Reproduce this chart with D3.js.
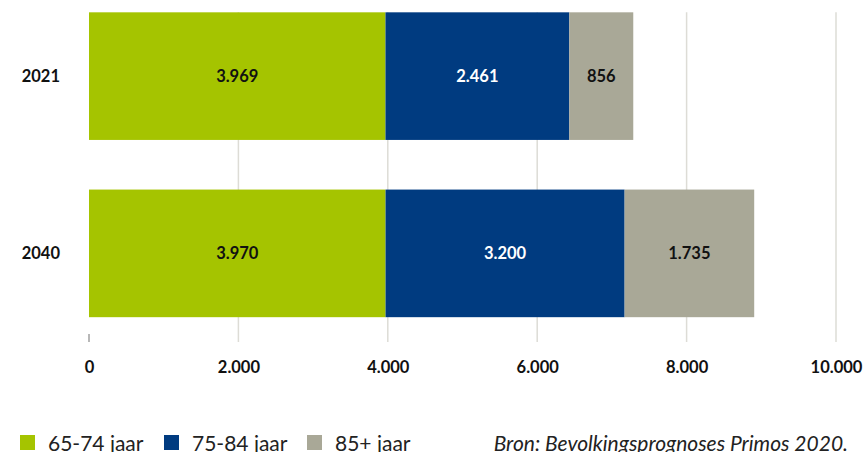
<!DOCTYPE html>
<html>
<head>
<meta charset="utf-8">
<script src="https://cdn.jsdelivr.net/npm/d3@7"></script>
<style>
  body { margin: 0; background: #fff; }
  svg { display: block; font-family: Lato, "Open Sans", sans-serif; }
</style>
</head>
<body>
<div id="chart"></div>
<script>
// data
var years = ["2021", "2040"];
var groups = ["65-74 jaar", "75-84 jaar", "85+ jaar"];
var age6574 = [3969, 3970];
var age7584 = [2461, 3200];
var age85plus = [856, 1735];
var xTicks = [0, 2000, 4000, 6000, 8000, 10000];
var source = "Bron: Bevolkingsprognoses Primos 2020.";

var colors = ["#a5c400", "#003b80", "#a9a897"];
var labelColors = ["#111", "#fff", "#111"];

var width = 865, height = 452;

var svg = d3.select("#chart")
    .append("svg")
    .attr("width", width)
    .attr("height", height);

// build table for stack
var table = years.map(function(y, i) {
    return { year: y, "65-74 jaar": age6574[i], "75-84 jaar": age7584[i], "85+ jaar": age85plus[i] };
});
var series = d3.stack().keys(groups)(table);

var x = d3.scaleLinear()
    .domain([0, 10000])
    .range([89, 836]);

var y = d3.scaleBand()
    .domain(years)
    .range([-12.5, 342])
    .paddingInner(0.28)
    .paddingOuter(0.14);

var gridTop = y(years[0]);
var gridBottom = 342;

// gridlines
svg.append("g")
    .selectAll("line")
    .data(xTicks.slice(1))
    .enter()
    .append("line")
    .attr("x1", function(d) { return x(d); })
    .attr("x2", function(d) { return x(d); })
    .attr("y1", gridTop)
    .attr("y2", gridBottom)
    .attr("stroke", "#dddcd6")
    .attr("stroke-width", 1.5);

// small tick at zero
svg.append("line")
    .attr("x1", x(0)).attr("x2", x(0))
    .attr("y1", 334).attr("y2", gridBottom)
    .attr("stroke", "#a0a0a0")
    .attr("stroke-width", 1.5);

// bars
var layer = svg.selectAll("g.layer")
    .data(series)
    .enter()
    .append("g")
    .attr("class", "layer")
    .attr("fill", function(d, i) { return colors[i]; });

layer.selectAll("rect")
    .data(function(d) { return d; })
    .enter()
    .append("rect")
    .attr("x", function(d) { return x(d[0]); })
    .attr("y", function(d) { return y(d.data.year); })
    .attr("width", function(d) { return x(d[1]) - x(d[0]); })
    .attr("height", y.bandwidth());

var fmt = function(v) { return d3.format(",")(v).replace(/,/g, "."); };

// value labels
series.forEach(function(s, i) {
    svg.append("g")
        .selectAll("text")
        .data(s)
        .enter()
        .append("text")
        .attr("x", function(d) { return (x(d[0]) + x(d[1])) / 2; })
        .attr("y", function(d) { return y(d.data.year) + y.bandwidth() / 2; })
        .attr("dy", "0.36em")
        .attr("text-anchor", "middle")
        .attr("font-size", 16.5)
        .attr("font-weight", "bold")
        .attr("fill", labelColors[i])
        .text(function(d) { return fmt(d[1] - d[0]); });
});

// category labels
svg.append("g")
    .selectAll("text")
    .data(years)
    .enter()
    .append("text")
    .attr("x", 60)
    .attr("y", function(d) { return y(d) + y.bandwidth() / 2; })
    .attr("dy", "0.36em")
    .attr("text-anchor", "end")
    .attr("font-size", 16.5)
    .attr("font-weight", "bold")
    .attr("fill", "#111")
    .text(function(d) { return d; });

// x axis labels
var xAxis = d3.axisBottom(x)
    .tickValues(xTicks)
    .tickSize(0)
    .tickPadding(0)
    .tickFormat(fmt);

var axisG = svg.append("g")
    .attr("transform", "translate(0,361)")
    .call(xAxis);
axisG.select(".domain").remove();
axisG.selectAll("text")
    .attr("font-size", 16.5)
    .attr("font-weight", "bold")
    .attr("font-family", "Lato, 'Open Sans', sans-serif")
    .attr("fill", "#111");

// legend
var legendX = [20, 164, 307];
var legend = svg.append("g")
    .selectAll("g")
    .data(groups)
    .enter()
    .append("g")
    .attr("transform", function(d, i) { return "translate(" + legendX[i] + ",435)"; });

legend.append("rect")
    .attr("width", 15)
    .attr("height", 15)
    .attr("fill", function(d, i) { return colors[i]; });

legend.append("text")
    .attr("x", 28)
    .attr("y", 16)
    .attr("font-size", 21)
    .attr("fill", "#222")
    .text(function(d) { return d; });

// source
svg.append("text")
    .attr("x", 848)
    .attr("y", 451)
    .attr("text-anchor", "end")
    .attr("font-size", 21)
    .attr("font-style", "italic")
    .attr("fill", "#222")
    .text(source);
</script>
</body>
</html>
